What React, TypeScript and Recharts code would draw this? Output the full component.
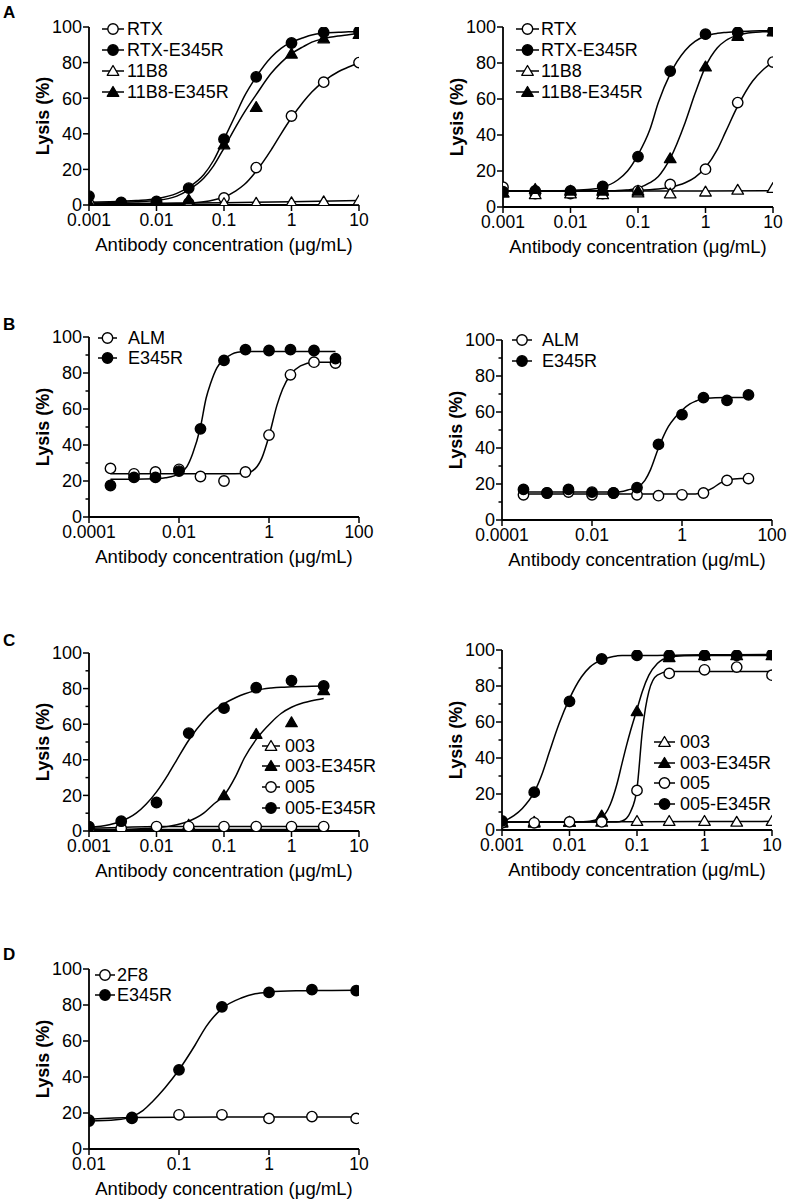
import React from 'react';
import { ComposedChart, Line, Scatter, XAxis, YAxis } from 'recharts';

type Kind = 'openCircle' | 'filledCircle' | 'openTri' | 'filledTri';

// ---- Panel A (left + right share concentrations) ----
const concA = [0.001, 0.003, 0.01, 0.03, 0.1, 0.3, 1, 3, 10];
const fitXA = [0.001, 0.002, 0.005, 0.01, 0.02, 0.03, 0.05, 0.07, 0.1, 0.15, 0.2, 0.3, 0.5, 0.7, 1, 1.5, 2, 3, 5, 7, 10];
const flatXA = [0.001, 0.01, 0.1, 1, 10];

const aL_RTX = [0.5, 1, 1, 1, 4, 21, 50, 69, 80];
const aL_RTXE345R = [5, 1.5, 2, 9.5, 37, 72, 91, 97, 97.5];
const aL_11B8 = [0.3, 0.5, 0.5, 0.8, 1, 1.2, 1.5, 2, 2.5];
const aL_11B8E345R = [1, 1, 1.5, 3, 34, 55, 85, 93.5, 96];
const aL_fitRTX = [0.3, 0.3, 0.4, 0.5, 0.8, 1, 1.8, 2.8, 4.5, 8, 11.5, 19, 31, 40, 49, 58, 63.5, 69.5, 75, 77.5, 80];
const aL_fitRTXE345R = [1.5, 1.8, 2.5, 3.5, 6.5, 10, 17, 25, 37, 51, 61, 72, 83, 88, 91.5, 94, 95.5, 96.5, 97, 97.3, 97.5];
const aL_fit11B8 = [0.8, 1, 1.3, 1.8, 2.5];
const aL_fit11B8E345R = [1, 1.2, 1.8, 2.5, 5, 8.5, 15, 22, 32, 44, 52, 62, 74, 80, 85, 89, 91.5, 93.5, 95, 95.7, 96.5];

const aR_RTX = [11, 7.5, 7.5, 7.5, 9, 12.5, 21, 58, 80.5];
const aR_RTXE345R = [8.5, 9, 9, 11.5, 28, 75.5, 96, 97, 98];
const aR_11B8 = [8, 7, 7.5, 7, 8, 7.5, 8.5, 9.5, 10.5];
const aR_11B8E345R = [8, 10, 9, 9, 9, 27, 78, 95, 97.5];
const aR_fitRTX = [9, 9, 9, 9, 9, 9, 9.1, 9.2, 9.3, 9.6, 10, 11, 13.5, 16.5, 22, 32, 42, 56, 70, 76, 80.5];
const aR_fitRTXE345R = [9, 9, 9, 9.2, 9.8, 11, 15, 20, 29, 43, 58, 74, 87, 92, 95, 96.5, 97, 97.5, 97.8, 97.9, 98];
const aR_fit11B8 = [8.8, 8.8, 8.9, 8.9, 9];
const aR_fit11B8E345R = [9, 9, 9, 9, 9, 9, 9, 9.5, 10.5, 13.5, 17, 27, 47, 63, 78, 88.5, 92.5, 95.5, 97, 97.3, 97.5];

// ---- Panel B ----
const concB = [0.0003, 0.001, 0.003, 0.01, 0.03, 0.1, 0.3, 1, 3, 10, 30];
const bL_ALM = [27, 24, 25, 26.5, 22.5, 20, 25, 45.5, 79, 86, 85.5];
const bL_E345R = [17.5, 22, 22, 25.5, 49, 87, 93, 92.5, 93, 92.5, 88];
const fitXBL_E = [0.0003, 0.001, 0.003, 0.005, 0.01, 0.015, 0.02, 0.03, 0.04, 0.05, 0.07, 0.1, 0.15, 0.2, 0.3, 1, 3, 10, 30];
const bL_fitE345R = [21, 21, 21.2, 21.8, 24, 28, 35, 50, 66, 74, 83, 87.5, 90.5, 91.5, 92, 92, 92, 92, 92];
const fitXBL_A = [0.0003, 0.01, 0.1, 0.3, 0.5, 0.7, 1, 1.5, 2, 3, 5, 10, 30];
const bL_fitALM = [24, 24, 24, 24.2, 27, 33, 45, 62, 71, 79, 84, 86, 86];

const bR_ALM = [14, 15, 15.5, 14, 15, 14, 13.5, 14, 15, 22, 23];
const bR_E345R = [17, 15, 17, 15.5, 15, 18, 42, 58.5, 68, 66.5, 69.5];
const fitXBR_E = [0.0003, 0.01, 0.03, 0.05, 0.07, 0.1, 0.15, 0.2, 0.3, 0.5, 0.7, 1, 1.5, 2, 3, 10, 30];
const bR_fitE345R = [15.5, 15.5, 15.5, 16, 17, 18, 22, 28, 40, 52, 57, 61, 64.5, 66, 67.5, 68, 68];
const fitXBR_A = [0.0003, 0.01, 1, 2, 3, 5, 7, 10, 20, 30];
const bR_fitALM = [14.5, 14.5, 14.5, 14.5, 15.5, 18, 20.5, 22, 23, 23];

// ---- Panel C ----
const concCL = [0.001, 0.003, 0.01, 0.03, 0.1, 0.3, 1, 3];
const cL_003 = [0.5, 0.5, 0.8, 0.8, 0.8, 0.8, 0.8, 0.8];
const cL_003E345R = [1, 1, 1.5, 3.5, 20, 54.5, 61, 79];
const cL_005 = [1, 1.5, 2.5, 2.5, 2.5, 2.5, 2.5, 2.5];
const cL_005E345R = [2.5, 5.5, 16, 55, 69, 80.5, 84.5, 81.5];
const fitXCL = [0.001, 0.002, 0.003, 0.005, 0.007, 0.01, 0.015, 0.02, 0.03, 0.05, 0.07, 0.1, 0.15, 0.2, 0.3, 0.5, 0.7, 1, 1.5, 2, 3];
const cL_fit005E345R = [2, 3.5, 5.5, 10, 15, 22, 32, 40, 51, 62, 67.5, 71.5, 75, 77, 79, 80.3, 80.8, 81, 81.2, 81.3, 81.5];
const cL_fit003E345R = [0.5, 0.6, 0.8, 1.1, 1.4, 1.8, 2.6, 3.5, 5.5, 10, 15, 20, 31, 41, 51.5, 61, 66, 69.5, 72, 73.2, 74.5];
const flatXCL = [0.001, 0.003, 0.01, 3];
const cL_fit003 = [0.8, 0.8, 0.8, 0.8];
const cL_fit005 = [1.5, 2, 2.5, 2.5];

const concCR = [0.001, 0.003, 0.01, 0.03, 0.1, 0.3, 1, 3, 10];
const cR_003 = [4.5, 4.5, 4.5, 4.5, 5, 5, 5, 4.5, 5];
const cR_003E345R = [4, 4, 4.5, 8, 66, 96, 97, 97, 97];
const cR_005 = [4, 4, 4.5, 4.5, 22, 87, 89, 90.5, 86];
const cR_005E345R = [5, 21, 71.5, 95, 97, 97, 97, 97, 97.5];
const fitXCR = [0.001, 0.0015, 0.002, 0.003, 0.004, 0.005, 0.007, 0.01, 0.015, 0.02, 0.03, 0.04, 0.05, 0.06, 0.07, 0.08, 0.1, 0.12, 0.15, 0.2, 0.3, 0.5, 1, 3, 10];
const cR_fit005E345R = [4.5, 8, 12, 21, 32, 43, 59, 73, 85, 90.5, 94.5, 96, 96.7, 97, 97, 97, 97, 97, 97, 97, 97.1, 97.2, 97.3, 97.4, 97.5];
const cR_fit003E345R = [4.5, 4.5, 4.5, 4.5, 4.5, 4.5, 4.5, 4.5, 4.6, 4.8, 7, 14, 25, 37, 47, 55, 67, 77, 86, 92.5, 96, 96.8, 97, 97, 97];
const cR_fit005 = [4.5, 4.5, 4.5, 4.5, 4.5, 4.5, 4.5, 4.5, 4.5, 4.5, 4.5, 4.5, 4.5, 5, 6.5, 10, 23, 55, 77, 86, 88, 88, 88, 88, 88];
const cR_fit003 = [4.5, 4.5, 4.6, 4.7, 4.8];

// ---- Panel D ----
const concD = [0.01, 0.03, 0.1, 0.3, 1, 3, 9.3];
const d_2F8 = [16, 17, 19, 19, 17, 18, 17];
const d_E345R = [15.5, 17.5, 44, 79, 87, 88.5, 88];
const fitXD = [0.01, 0.02, 0.03, 0.04, 0.05, 0.07, 0.1, 0.15, 0.2, 0.3, 0.5, 0.7, 1, 2, 3, 5, 9.3];
const d_fitE345R = [15.5, 16.2, 18, 21.5, 26, 34, 44, 57.5, 68, 78, 84, 86.2, 87.2, 87.9, 88, 88.1, 88.2];
const flatXD = [0.01, 0.03, 0.3, 9.3];
const d_fit2F8 = [16.5, 17.5, 17.8, 17.8];

// axis ticks
const ticksX3 = [0.001, 0.01, 0.1, 1, 10];
const ticksXB = [0.0001, 0.01, 1, 100];
const ticksXD = [0.01, 0.1, 1, 10];
const ticksY = [0, 20, 40, 60, 80, 100];
const ticksYMinor = [0, 10, 20, 30, 40, 50, 60, 70, 80, 90, 100];

const zip = (xs: number[], ys: number[]) => xs.map((x, i) => ({ x, y: ys[i] }));

interface Series {
  name: string;
  kind: Kind;
  xs: number[];
  ys: number[];
  fitX: number[];
  fitY: number[];
}

function Marker({ kind, cx, cy }: { kind: Kind; cx: number; cy: number }) {
  const fill = kind.startsWith('filled') ? '#000' : '#fff';
  if (kind.endsWith('Circle')) {
    return <circle cx={cx} cy={cy} r={5.2} fill={fill} stroke="#000" strokeWidth={1.4} />;
  }
  return (
    <polygon
      points={`${cx},${cy - 5.5} ${cx - 5.8},${cy + 4.3} ${cx + 5.8},${cy + 4.3}`}
      fill={fill}
      stroke="#000"
      strokeWidth={1.3}
      strokeLinejoin="round"
    />
  );
}

function YTick(props: any) {
  const { x, y, payload } = props;
  const v = payload.value;
  const axisX = x + 7; // tickSize 6 + tickMargin 1
  const major = v % 20 === 0;
  return (
    <g>
      <line x1={axisX - (major ? 6 : 3.5)} x2={axisX} y1={y} y2={y} stroke="#000" strokeWidth={1.5} />
      {major && (
        <text x={x} y={y} dy="0.36em" textAnchor="end" fill="#000" fontSize={18}>
          {v}
        </text>
      )}
    </g>
  );
}

interface LegendCfg {
  left: number;
  top: number;
  iconW: number;
  gap: number;
  step: number;
}

function LegendBox({ cfg, series }: { cfg: LegendCfg; series: Series[] }) {
  return (
    <>
      {series.map((s, i) => (
        <div
          key={s.name}
          style={{
            position: 'absolute',
            left: cfg.left,
            top: cfg.top + i * cfg.step - 10,
            height: 20,
            display: 'flex',
            alignItems: 'center',
            whiteSpace: 'nowrap',
          }}
        >
          <svg width={cfg.iconW} height={14} style={{ display: 'block', overflow: 'visible' }}>
            <line x1={0} x2={cfg.iconW} y1={7} y2={7} stroke="#000" strokeWidth={1.5} />
            <Marker kind={s.kind} cx={cfg.iconW / 2} cy={7} />
          </svg>
          <span style={{ marginLeft: cfg.gap, fontSize: 18, lineHeight: '20px', color: '#000' }}>{s.name}</span>
        </div>
      ))}
    </>
  );
}

interface PanelProps {
  axisX: number;
  plotTop: number;
  plotH: number;
  xDomain: [number, number];
  xTicks: number[];
  yTicks: number[];
  series: Series[];
  legend: LegendCfg;
}

const Y_W = 92;
const PLOT_W = 270;
const M_TOP = 12;
const X_H = 52;

function Panel({ axisX, plotTop, plotH, xDomain, xTicks, yTicks, series, legend }: PanelProps) {
  return (
    <>
      <div style={{ position: 'absolute', left: axisX - Y_W, top: plotTop - M_TOP }}>
        <ComposedChart
          width={Y_W + PLOT_W + 24}
          height={M_TOP + plotH + X_H + 2}
          margin={{ top: M_TOP, right: 24, bottom: 2, left: 0 }}
        >
          <XAxis
            dataKey="x"
            type="number"
            scale="log"
            domain={xDomain}
            ticks={xTicks}
            interval={0}
            allowDataOverflow
            tickFormatter={(v: number) => String(v)}
            axisLine={{ stroke: '#000', strokeWidth: 1.8 }}
            tickLine={{ stroke: '#000', strokeWidth: 1.5 }}
            tickSize={6}
            tickMargin={3}
            tick={{ fill: '#000', fontSize: 17.5 }}
            height={X_H}
            label={{
              value: 'Antibody concentration (μg/mL)',
              position: 'insideBottom',
              offset: 6,
              fill: '#000',
              fontSize: 18.5,
            }}
          />
          <YAxis
            dataKey="y"
            type="number"
            domain={[0, 100]}
            ticks={yTicks}
            interval={0}
            allowDataOverflow
            width={Y_W}
            axisLine={{ stroke: '#000', strokeWidth: 1.8 }}
            tickLine={false}
            tickSize={6}
            tickMargin={1}
            tick={(p: any) => <YTick {...p} />}
            label={{
              value: 'Lysis (%)',
              angle: -90,
              position: 'center',
              fill: '#000',
              fontSize: 18,
              fontWeight: 'bold',
            }}
          />
          {series.map((s) => (
            <Line
              key={'fit-' + s.name}
              data={zip(s.fitX, s.fitY)}
              dataKey="y"
              type="monotone"
              stroke="#000"
              strokeWidth={1.5}
              dot={false}
              activeDot={false}
              isAnimationActive={false}
            />
          ))}
          {series.map((s) => (
            <Scatter
              key={'pts-' + s.name}
              data={zip(s.xs, s.ys)}
              dataKey="y"
              isAnimationActive={false}
              shape={(p: any) => <Marker kind={s.kind} cx={p.cx} cy={p.cy} />}
            />
          ))}
        </ComposedChart>
      </div>
      <LegendBox cfg={legend} series={series} />
    </>
  );
}

const panelALeft: Series[] = [
  { name: 'RTX', kind: 'openCircle', xs: concA, ys: aL_RTX, fitX: fitXA, fitY: aL_fitRTX },
  { name: 'RTX-E345R', kind: 'filledCircle', xs: concA, ys: aL_RTXE345R, fitX: fitXA, fitY: aL_fitRTXE345R },
  { name: '11B8', kind: 'openTri', xs: concA, ys: aL_11B8, fitX: flatXA, fitY: aL_fit11B8 },
  { name: '11B8-E345R', kind: 'filledTri', xs: concA, ys: aL_11B8E345R, fitX: fitXA, fitY: aL_fit11B8E345R },
];
const panelARight: Series[] = [
  { name: 'RTX', kind: 'openCircle', xs: concA, ys: aR_RTX, fitX: fitXA, fitY: aR_fitRTX },
  { name: 'RTX-E345R', kind: 'filledCircle', xs: concA, ys: aR_RTXE345R, fitX: fitXA, fitY: aR_fitRTXE345R },
  { name: '11B8', kind: 'openTri', xs: concA, ys: aR_11B8, fitX: flatXA, fitY: aR_fit11B8 },
  { name: '11B8-E345R', kind: 'filledTri', xs: concA, ys: aR_11B8E345R, fitX: fitXA, fitY: aR_fit11B8E345R },
];
const panelBLeft: Series[] = [
  { name: 'ALM', kind: 'openCircle', xs: concB, ys: bL_ALM, fitX: fitXBL_A, fitY: bL_fitALM },
  { name: 'E345R', kind: 'filledCircle', xs: concB, ys: bL_E345R, fitX: fitXBL_E, fitY: bL_fitE345R },
];
const panelBRight: Series[] = [
  { name: 'ALM', kind: 'openCircle', xs: concB, ys: bR_ALM, fitX: fitXBR_A, fitY: bR_fitALM },
  { name: 'E345R', kind: 'filledCircle', xs: concB, ys: bR_E345R, fitX: fitXBR_E, fitY: bR_fitE345R },
];
const panelCLeft: Series[] = [
  { name: '003', kind: 'openTri', xs: concCL, ys: cL_003, fitX: flatXCL, fitY: cL_fit003 },
  { name: '003-E345R', kind: 'filledTri', xs: concCL, ys: cL_003E345R, fitX: fitXCL, fitY: cL_fit003E345R },
  { name: '005', kind: 'openCircle', xs: concCL, ys: cL_005, fitX: flatXCL, fitY: cL_fit005 },
  { name: '005-E345R', kind: 'filledCircle', xs: concCL, ys: cL_005E345R, fitX: fitXCL, fitY: cL_fit005E345R },
];
const panelCRight: Series[] = [
  { name: '003', kind: 'openTri', xs: concCR, ys: cR_003, fitX: flatXA, fitY: cR_fit003 },
  { name: '003-E345R', kind: 'filledTri', xs: concCR, ys: cR_003E345R, fitX: fitXCR, fitY: cR_fit003E345R },
  { name: '005', kind: 'openCircle', xs: concCR, ys: cR_005, fitX: fitXCR, fitY: cR_fit005 },
  { name: '005-E345R', kind: 'filledCircle', xs: concCR, ys: cR_005E345R, fitX: fitXCR, fitY: cR_fit005E345R },
];
const panelD: Series[] = [
  { name: '2F8', kind: 'openCircle', xs: concD, ys: d_2F8, fitX: flatXD, fitY: d_fit2F8 },
  { name: 'E345R', kind: 'filledCircle', xs: concD, ys: d_E345R, fitX: fitXD, fitY: d_fitE345R },
];

const letterStyle: React.CSSProperties = {
  position: 'absolute',
  left: 3,
  fontSize: 17,
  fontWeight: 'bold',
  lineHeight: '17px',
  color: '#000',
};

export default function App() {
  return (
    <div
      style={{
        position: 'absolute',
        left: 0,
        top: 0,
        width: 790,
        height: 1200,
        background: '#fff',
        fontFamily: '"Liberation Sans", Arial, sans-serif',
        overflow: 'hidden',
      }}
    >
      <div style={{ ...letterStyle, top: 4 }}>A</div>
      <div style={{ ...letterStyle, top: 316 }}>B</div>
      <div style={{ ...letterStyle, top: 632 }}>C</div>
      <div style={{ ...letterStyle, top: 946 }}>D</div>

      <Panel axisX={89} plotTop={27} plotH={178} xDomain={[0.001, 10]} xTicks={ticksX3} yTicks={ticksY}
        series={panelALeft} legend={{ left: 102, top: 28.5, iconW: 22, gap: 3, step: 21 }} />
      <Panel axisX={503} plotTop={27} plotH={180} xDomain={[0.001, 10]} xTicks={ticksX3} yTicks={ticksY}
        series={panelARight} legend={{ left: 516, top: 28.5, iconW: 23, gap: 2, step: 21 }} />

      <Panel axisX={89} plotTop={337} plotH={180} xDomain={[0.0001, 100]} xTicks={ticksXB} yTicks={ticksYMinor}
        series={panelBLeft} legend={{ left: 98, top: 337.5, iconW: 19, gap: 11, step: 20 }} />
      <Panel axisX={502} plotTop={340} plotH={180} xDomain={[0.0001, 100]} xTicks={ticksXB} yTicks={ticksYMinor}
        series={panelBRight} legend={{ left: 512, top: 339.5, iconW: 20, gap: 10, step: 21 }} />

      <Panel axisX={89} plotTop={653} plotH={178} xDomain={[0.001, 10]} xTicks={ticksX3} yTicks={ticksYMinor}
        series={panelCLeft} legend={{ left: 262, top: 745.5, iconW: 18, gap: 5, step: 20.7 }} />
      <Panel axisX={502} plotTop={650} plotH={180} xDomain={[0.001, 10]} xTicks={ticksX3} yTicks={ticksYMinor}
        series={panelCRight} legend={{ left: 654, top: 742, iconW: 21, gap: 5, step: 20.7 }} />

      <Panel axisX={89} plotTop={969} plotH={180} xDomain={[0.01, 10]} xTicks={ticksXD} yTicks={ticksY}
        series={panelD} legend={{ left: 95, top: 975, iconW: 20, gap: 2, step: 19.5 }} />
    </div>
  );
}
